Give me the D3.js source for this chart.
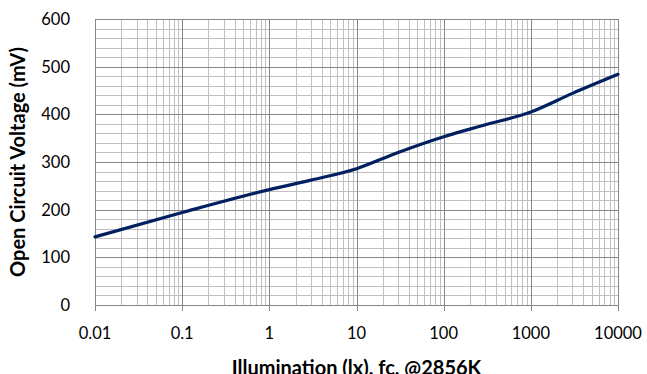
<!DOCTYPE html>
<html>
<head>
<meta charset="utf-8">
<script src="https://cdn.jsdelivr.net/npm/d3@7"></script>
<style>
  body { margin: 0; background: #fff; }
  text { font-family: Lato, "Open Sans", sans-serif; fill: #000; }
</style>
</head>
<body>
<script>
// Data
var lux = [0.01, 0.1, 1, 3, 10, 30, 100, 300, 1000, 3000, 10000];
var voltage = [143, 194, 242, 262, 286, 320, 353, 378, 405, 444, 484];
var xTickLabels = ["0.01", "0.1", "1", "10", "100", "1000", "10000"];
var yTickValues = [0, 100, 200, 300, 400, 500, 600];

var margin = {top: 19, right: 29, bottom: 69, left: 95},
    width = 647 - margin.left - margin.right,
    height = 374 - margin.top - margin.bottom;

var x = d3.scaleLog()
    .domain([0.01, 10000])
    .range([0, width]);
var y = d3.scaleLinear()
    .domain([0, 600])
    .range([height, 0]);

var svg = d3.select("body")
    .append("svg")
        .attr("width", 647)
        .attr("height", 374)
    .append("g")
        .attr("transform", "translate(" + margin.left + "," + margin.top + ")");

// minor grid values
var minorX = [];
for (var e = -2; e < 4; e++) {
    for (var m = 2; m <= 9; m++) minorX.push(m * Math.pow(10, e));
}
var minorY = d3.range(0, 601, 20).filter(function(v) { return v % 100 != 0; });
var majorX = xTickLabels.map(Number);

// Minor gridlines
svg.selectAll(".minor-x")
    .data(minorX)
  .enter().append("line")
    .attr("x1", function(d) { return Math.round(x(d)) + 0.5; })
    .attr("x2", function(d) { return Math.round(x(d)) + 0.5; })
    .attr("y1", 0)
    .attr("y2", height)
    .attr("stroke", "#bfbfbf");
svg.selectAll(".minor-y")
    .data(minorY)
  .enter().append("line")
    .attr("x1", 0)
    .attr("x2", width)
    .attr("y1", function(d) { return Math.round(y(d)) + 0.5; })
    .attr("y2", function(d) { return Math.round(y(d)) + 0.5; })
    .attr("stroke", "#bfbfbf");

// Major gridlines
svg.selectAll(".major-y")
    .data(yTickValues)
  .enter().append("line")
    .attr("x1", 0)
    .attr("x2", width)
    .attr("y1", function(d) { return Math.round(y(d)) + 0.5; })
    .attr("y2", function(d) { return Math.round(y(d)) + 0.5; })
    .attr("stroke", "#868686");
svg.selectAll(".major-x")
    .data(majorX)
  .enter().append("line")
    .attr("x1", function(d) { return Math.round(x(d)) + 0.5; })
    .attr("x2", function(d) { return Math.round(x(d)) + 0.5; })
    .attr("y1", 0)
    .attr("y2", height + 6)
    .attr("stroke", "#868686");

// The curve
var line = d3.line()
    .x(function(d) { return x(d[0]); })
    .y(function(d) { return y(d[1]); })
    .curve(d3.curveMonotoneX);

svg.append("path")
    .datum(d3.zip(lux, voltage))
    .attr("fill", "none")
    .attr("stroke", "#002060")
    .attr("stroke-width", 3.2)
    .attr("stroke-linecap", "round")
    .attr("d", line);

// Tick labels
svg.selectAll(".xlab")
    .data(xTickLabels)
  .enter().append("text")
    .attr("x", function(d) { return x(+d); })
    .attr("y", height + 34)
    .attr("text-anchor", "middle")
    .style("font-size", "16.5px")
    .text(function(d) { return d; });

svg.selectAll(".ylab")
    .data(yTickValues)
  .enter().append("text")
    .attr("x", -25)
    .attr("y", function(d) { return y(d) + 6; })
    .attr("text-anchor", "end")
    .style("font-size", "16.5px")
    .text(function(d) { return d; });

// Axis titles
svg.append("text")
    .attr("x", width / 2)
    .attr("y", height + 70)
    .attr("text-anchor", "middle")
    .style("font-size", "20px")
    .style("font-weight", "bold")
    .text("Illumination (lx), fc, @2856K");

svg.append("text")
    .attr("transform", "translate(" + (-70) + "," + (height / 2) + ") rotate(-90)")
    .attr("text-anchor", "middle")
    .style("font-size", "20px")
    .style("font-weight", "bold")
    .text("Open Circuit Voltage (mV)");
</script>
</body>
</html>
